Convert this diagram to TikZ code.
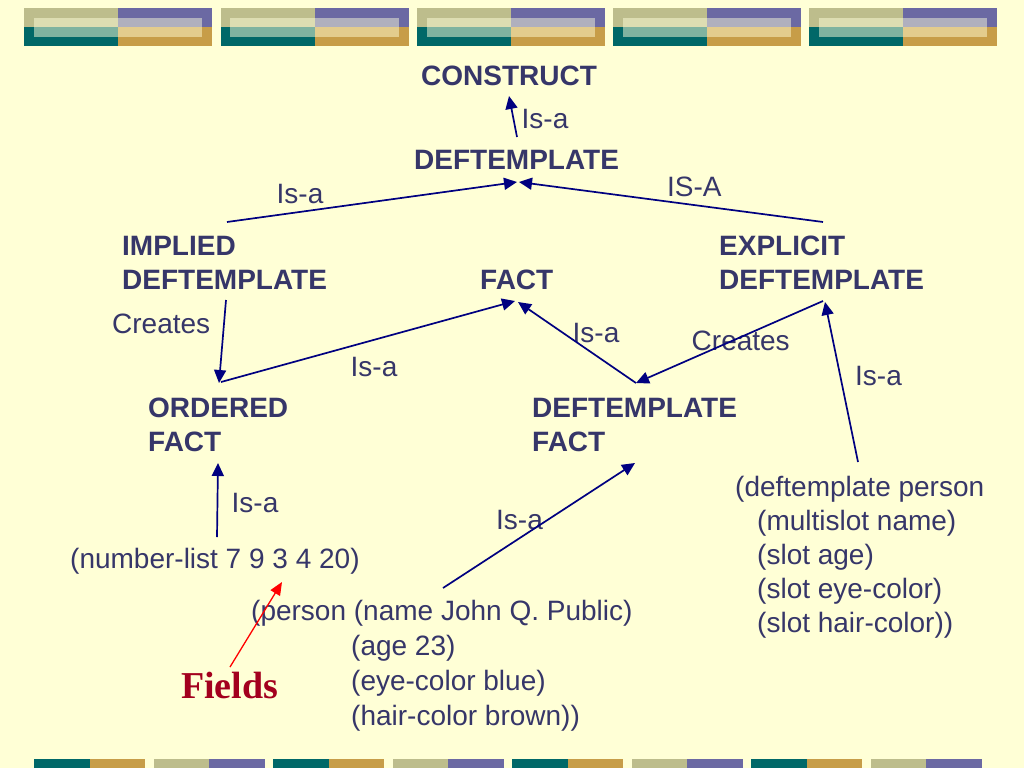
\documentclass[tikz,border=0pt]{standalone}
\usepackage{fontspec}
\setmainfont{Liberation Sans}
\newfontfamily\fieldsfont{Liberation Serif}
\usetikzlibrary{arrows.meta}
\definecolor{bg}{HTML}{FFFFD6}
\definecolor{txt}{HTML}{363669}
\definecolor{arr}{HTML}{000080}
\definecolor{fieldred}{HTML}{A3001E}
\definecolor{khaki}{HTML}{BDBD8C}
\definecolor{purp}{HTML}{6B69A3}
\definecolor{teal}{HTML}{006868}
\definecolor{gold}{HTML}{C79D48}
\definecolor{pkhaki}{HTML}{DDDDB2}
\definecolor{ppurp}{HTML}{B0B0BE}
\definecolor{pteal}{HTML}{7FB3A0}
\definecolor{pgold}{HTML}{E3CC8D}
\tikzset{
  lbl/.style={anchor=base west, inner sep=0pt, text=txt, font=\fontsize{28}{34}\selectfont},
  head/.style={lbl, font=\fontsize{28}{34}\selectfont\bfseries},
  link/.style={draw=arr, line width=1.7pt, -{Triangle[length=13pt,width=12pt]}},
}
\begin{document}
\begin{tikzpicture}[x=1pt,y=-1pt]
\useasboundingbox (0,0) rectangle (1024,768);
\fill[bg] (0,0) rectangle (1024,768);
% top banner
\foreach \s in {24,220.5,417,613,809}{
  \fill[khaki] (\s,8) rectangle ++(94,19);
  \fill[purp] (\s+94,8) rectangle ++(94,19);
  \fill[teal] (\s,27) rectangle ++(94,19);
  \fill[gold] (\s+94,27) rectangle ++(94,19);
  \fill[pkhaki] (\s+9.5,17.7) rectangle (\s+94,27);
  \fill[ppurp] (\s+94,17.7) rectangle (\s+178,27);
  \fill[pteal] (\s+9.5,27) rectangle (\s+94,36.7);
  \fill[pgold] (\s+94,27) rectangle (\s+178,36.7);
}
% bottom banner
\foreach \i in {0,...,7}{
  \pgfmathsetmacro{\s}{34+119.5*\i}
  \pgfmathparse{int(mod(\i,2))}
  \ifnum\pgfmathresult=0
    \fill[teal] (\s,759) rectangle ++(55.5,9);
    \fill[gold] (\s+55.5,759) rectangle ++(55.5,9);
  \else
    \fill[khaki] (\s,759) rectangle ++(55.5,9);
    \fill[purp] (\s+55.5,759) rectangle ++(55.5,9);
  \fi
}
% headings
\node[head] (construct) at (421,85) {CONSTRUCT};
\node[head] (deft) at (414,169) {DEFTEMPLATE};
\node[head] (implA) at (122,255) {IMPLIED};
\node[head] (implB) at (122,289) {DEFTEMPLATE};
\node[head] (fact) at (480,289) {FACT};
\node[head] (explA) at (719,255) {EXPLICIT};
\node[head] (explB) at (719,289) {DEFTEMPLATE};
\node[head] (ordA) at (148,417) {ORDERED};
\node[head] (ordB) at (148,451) {FACT};
\node[head] (dfA) at (532,417) {DEFTEMPLATE};
\node[head] (dfB) at (532,451) {FACT};
% labels
\node[lbl] (isa1) at (521.5,128) {Is-a};
\node[lbl] (isa2) at (276.5,203) {Is-a};
\node[lbl] (isa3) at (667,196) {IS-A};
\node[lbl] (cr1) at (112,333) {Creates};
\node[lbl] (isa4) at (572.5,342) {Is-a};
\node[lbl] (cr2) at (691.5,350) {Creates};
\node[lbl] (isa5) at (350.5,376) {Is-a};
\node[lbl] (isa6) at (855,385) {Is-a};
\node[lbl] (isa7) at (231.5,512) {Is-a};
\node[lbl] (isa8) at (496,529) {Is-a};
% examples
\node[lbl] (dtp1) at (735,496) {(deftemplate person};
\node[lbl] (dtp2) at (757,530) {(multislot name)};
\node[lbl] (dtp3) at (757,564) {(slot age)};
\node[lbl] (dtp4) at (757,598) {(slot eye-color)};
\node[lbl] (dtp5) at (757,632) {(slot hair-color))};
\node[lbl] (numlist) at (70,568) {(number-list 7 9 3 4 20)};
\node[lbl] (pers1) at (251,620) {(person (name John Q. Public)};
\node[lbl] (pers2) at (351,655) {(age 23)};
\node[lbl] (pers3) at (351,690) {(eye-color blue)};
\node[lbl] (pers4) at (351,725) {(hair-color brown))};
\node[anchor=base west, inner sep=0pt, text=fieldred, font=\fontsize{38}{44}\selectfont\fieldsfont\bfseries] (fields) at (181,698) {Fields};
% connector ends
\coordinate (deftTop) at (517,137);
\coordinate (constructBot) at (509,96);
\coordinate (deftL) at (517,182);
\coordinate (deftR) at (519,182);
\coordinate (implTop) at (227,222);
\coordinate (explTop) at (823,222);
\coordinate (implBot) at (226,300);
\coordinate (ordTop) at (219,383);
\coordinate (ordStart) at (221,382);
\coordinate (factL) at (515,301);
\coordinate (factR) at (518,302);
\coordinate (dfTop) at (636,383);
\coordinate (explBot) at (823,301);
\coordinate (explTip) at (825,302);
\coordinate (dtpTop) at (858,462);
\coordinate (ordBot) at (218,463);
\coordinate (numTop) at (217,537);
\coordinate (dfBot) at (635,463);
\coordinate (persTop) at (443,588);
\coordinate (fieldsTop) at (230,667);
\coordinate (numDigit) at (282,582);
% connectors
\draw[link] (deftTop) -- (constructBot);
\draw[link] (implTop) -- (deftL);
\draw[link] (explTop) -- (deftR);
\draw[link] (implBot) -- (ordTop);
\draw[link] (ordStart) -- (factL);
\draw[link] (dfTop) -- (factR);
\draw[link] (explBot) -- (dfTop);
\draw[link] (dtpTop) -- (explTip);
\draw[link] (numTop) -- (ordBot);
\draw[link] (persTop) -- (dfBot);
\draw[draw=red, line width=1.3pt, -{Triangle[length=13pt,width=11pt]}] (fieldsTop) -- (numDigit);
\end{tikzpicture}
\end{document}
